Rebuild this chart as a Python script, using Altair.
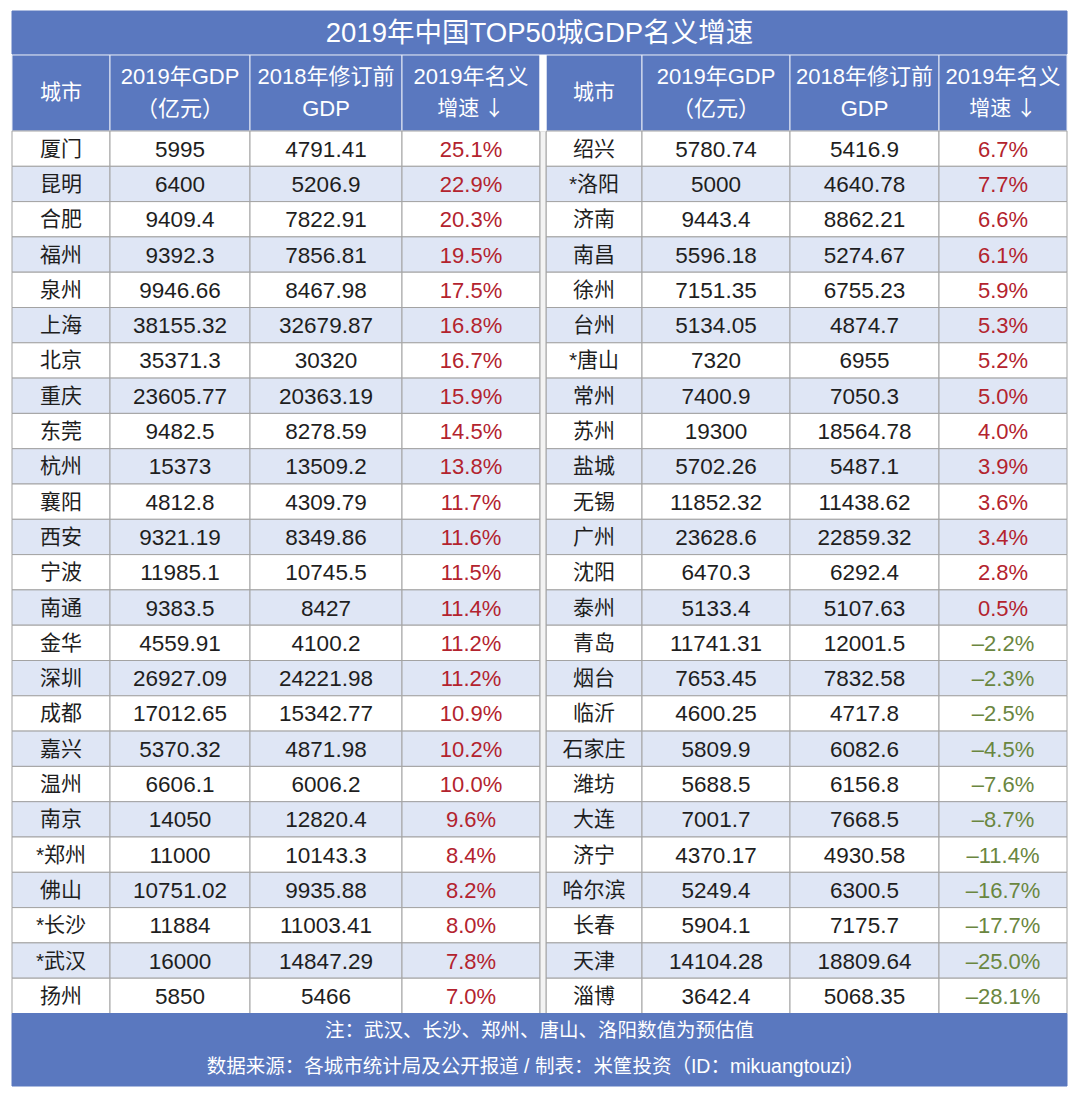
import altair as alt
import pandas as pd

# ---------------- data ----------------
title = "2019年中国TOP50城GDP名义增速"
headers = [["城市"], ["2019年GDP", "（亿元）"], ["2018年修订前", "GDP"], ["2019年名义", "增速 ↓"]]
note1 = "注：武汉、长沙、郑州、唐山、洛阳数值为预估值"
note2 = "数据来源：各城市统计局及公开报道 / 制表：米筐投资（ID：mikuangtouzi）"

left_city = ["厦门", "昆明", "合肥", "福州", "泉州", "上海", "北京", "重庆", "东莞", "杭州",
             "襄阳", "西安", "宁波", "南通", "金华", "深圳", "成都", "嘉兴", "温州", "南京",
             "*郑州", "佛山", "*长沙", "*武汉", "扬州"]
left_gdp19 = ["5995", "6400", "9409.4", "9392.3", "9946.66", "38155.32", "35371.3", "23605.77",
              "9482.5", "15373", "4812.8", "9321.19", "11985.1", "9383.5", "4559.91", "26927.09",
              "17012.65", "5370.32", "6606.1", "14050", "11000", "10751.02", "11884", "16000", "5850"]
left_gdp18 = ["4791.41", "5206.9", "7822.91", "7856.81", "8467.98", "32679.87", "30320", "20363.19",
              "8278.59", "13509.2", "4309.79", "8349.86", "10745.5", "8427", "4100.2", "24221.98",
              "15342.77", "4871.98", "6006.2", "12820.4", "10143.3", "9935.88", "11003.41",
              "14847.29", "5466"]
left_growth = [25.1, 22.9, 20.3, 19.5, 17.5, 16.8, 16.7, 15.9, 14.5, 13.8, 11.7, 11.6, 11.5,
               11.4, 11.2, 11.2, 10.9, 10.2, 10.0, 9.6, 8.4, 8.2, 8.0, 7.8, 7.0]

right_city = ["绍兴", "*洛阳", "济南", "南昌", "徐州", "台州", "*唐山", "常州", "苏州", "盐城",
              "无锡", "广州", "沈阳", "泰州", "青岛", "烟台", "临沂", "石家庄", "潍坊", "大连",
              "济宁", "哈尔滨", "长春", "天津", "淄博"]
right_gdp19 = ["5780.74", "5000", "9443.4", "5596.18", "7151.35", "5134.05", "7320", "7400.9",
               "19300", "5702.26", "11852.32", "23628.6", "6470.3", "5133.4", "11741.31",
               "7653.45", "4600.25", "5809.9", "5688.5", "7001.7", "4370.17", "5249.4", "5904.1",
               "14104.28", "3642.4"]
right_gdp18 = ["5416.9", "4640.78", "8862.21", "5274.67", "6755.23", "4874.7", "6955", "7050.3",
               "18564.78", "5487.1", "11438.62", "22859.32", "6292.4", "5107.63", "12001.5",
               "7832.58", "4717.8", "6082.6", "6156.8", "7668.5", "4930.58", "6300.5", "7175.7",
               "18809.64", "5068.35"]
right_growth = [6.7, 7.7, 6.6, 6.1, 5.9, 5.3, 5.2, 5.0, 4.0, 3.9, 3.6, 3.4, 2.8, 0.5, -2.2,
                -2.3, -2.5, -4.5, -7.6, -8.7, -11.4, -16.7, -17.7, -25.0, -28.1]

# ---------------- layout / style ----------------
W, H = 1064, 1083
LEFT_EDGES = [4, 102, 242, 394, 532]
RIGHT_EDGES = [538, 634, 782, 931, 1059]
TITLE_TOP, TITLE_BOT = 3, 46
HEAD_TOP, HEAD_BOT = 47, 123
ROW_H = 35.3
N_ROWS = 25
FOOT_TOP = HEAD_BOT + N_ROWS * ROW_H
FOOT_BOT = 1078

BLUE = "#5a78bf"
ALT = "#dfe6f5"
GRID = "#a3a3a3"
INK = "#1e1e1e"
RED = "#b3232e"
GREEN = "#6a8640"
FONT = "Liberation Sans, Noto Sans CJK SC"
CJK = "Noto Sans CJK SC"


def fmt_growth(g):
    s = f"{g:.1f}%"
    return s.replace("-", "–")


cells = []
texts = []
for edges, city, g19, g18, gr in [
    (LEFT_EDGES, left_city, left_gdp19, left_gdp18, left_growth),
    (RIGHT_EDGES, right_city, right_gdp19, right_gdp18, right_growth),
]:
    # header cells
    for j, lines in enumerate(headers):
        x0, x1 = edges[j], edges[j + 1]
        cells.append(dict(x=x0, x2=x1, y=HEAD_TOP, y2=HEAD_BOT, fill=BLUE, stroke="#e8ecf6"))
        if len(lines) == 1:
            texts.append(dict(cx=(x0 + x1) / 2, cy=(HEAD_TOP + HEAD_BOT) / 2, label=lines[0],
                              color="white", size=21, font=FONT))
        else:
            texts.append(dict(cx=(x0 + x1) / 2, cy=HEAD_TOP + 22, label=lines[0], color="white",
                              size=22, font=FONT))
            texts.append(dict(cx=(x0 + x1) / 2, cy=HEAD_TOP + 54, label=lines[1], color="white",
                              size=22 if "↓" not in lines[1] else 21,
                              font=FONT if "↓" not in lines[1] else CJK))
    # data cells
    for i in range(N_ROWS):
        top = HEAD_BOT + i * ROW_H
        bot = top + ROW_H
        fill = "#ffffff" if i % 2 == 0 else ALT
        vals = [city[i], g19[i], g18[i], fmt_growth(gr[i])]
        cols = [INK, INK, INK, RED if gr[i] >= 0 else GREEN]
        sizes = [21, 22.5, 22.5, 22]
        for j in range(4):
            x0, x1 = edges[j], edges[j + 1]
            cells.append(dict(x=x0, x2=x1, y=top, y2=bot, fill=fill, stroke=GRID))
            texts.append(dict(cx=(x0 + x1) / 2, cy=(top + bot) / 2 + 1, label=vals[j],
                              color=cols[j], size=sizes[j], font=FONT))

# gap between the two tables
cells.append(dict(x=LEFT_EDGES[-1], x2=RIGHT_EDGES[0], y=HEAD_BOT, y2=FOOT_TOP, fill="#f3f3f3", stroke=GRID))
cells.append(dict(x=LEFT_EDGES[-1], x2=RIGHT_EDGES[0], y=HEAD_TOP, y2=HEAD_BOT, fill="#ffffff", stroke="#ffffff"))
# title + footer bands
cells.append(dict(x=LEFT_EDGES[0], x2=RIGHT_EDGES[-1], y=TITLE_TOP, y2=TITLE_BOT, fill=BLUE, stroke=BLUE))
cells.append(dict(x=LEFT_EDGES[0], x2=RIGHT_EDGES[-1], y=FOOT_TOP, y2=FOOT_BOT, fill=BLUE, stroke=BLUE))

texts.append(dict(cx=(LEFT_EDGES[0] + RIGHT_EDGES[-1]) / 2, cy=(TITLE_TOP + TITLE_BOT) / 2 + 1,
                  label=title, color="white", size=27.5, font=FONT))
texts.append(dict(cx=(LEFT_EDGES[0] + RIGHT_EDGES[-1]) / 2, cy=FOOT_TOP + 17,
                  label=note1, color="white", size=19.5, font=FONT))
texts.append(dict(cx=(LEFT_EDGES[0] + RIGHT_EDGES[-1]) / 2 - 4, cy=FOOT_TOP + 53,
                  label=note2, color="white", size=19.5, font=FONT))

cells_df = pd.DataFrame(cells)
texts_df = pd.DataFrame(texts)

xs = alt.Scale(domain=[0, W], nice=False, zero=False)
ys = alt.Scale(domain=[0, H], nice=False, zero=False, reverse=True)

rects = alt.Chart(cells_df).mark_rect(strokeWidth=1).encode(
    x=alt.X("x:Q", scale=xs, axis=None),
    x2="x2:Q",
    y=alt.Y("y:Q", scale=ys, axis=None),
    y2="y2:Q",
    fill=alt.Fill("fill:N", scale=None),
    stroke=alt.Stroke("stroke:N", scale=None),
)

layers = [rects]
for f in [FONT, CJK]:
    sub = texts_df[texts_df["font"] == f].drop(columns=["font"])
    layers.append(
        alt.Chart(sub).mark_text(font=f, baseline="middle", align="center").encode(
            x=alt.X("cx:Q", scale=xs, axis=None),
            y=alt.Y("cy:Q", scale=ys, axis=None),
            text="label:N",
            color=alt.Color("color:N", scale=None),
            size=alt.Size("size:Q", scale=None),
        )
    )

chart = alt.layer(*layers).properties(
    width=W, height=H, padding=0, autosize=alt.AutoSizeParams(type="none"),
    background="white",
).configure_view(stroke=None)

chart.save("out.html", embed_options={"renderer": "svg", "actions": False})
